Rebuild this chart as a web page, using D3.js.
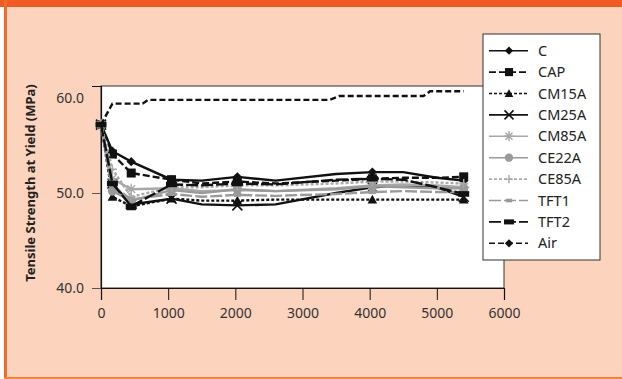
<!DOCTYPE html>
<html>
<head>
<meta charset="utf-8">
<script src="https://cdn.jsdelivr.net/npm/d3@7"></script>
<style>
  html, body { margin: 0; padding: 0; background: #fff; }
  svg { display: block; }
</style>
</head>
<body>
<div id="chart"></div>
<script>
// hours of exposure (x) and tensile strength values (MPa)
const hours = [0, 170, 450, 1050, 1500, 2030, 2600, 3500, 4040, 4500, 5000, 5400];
const markerHours = [0, 170, 450, 1050, 2030, 4040, 5400];

const cValues     = [57.2, 54.4, 53.3, 51.4, 51.3, 51.7, 51.3, 52.0, 52.2, 52.2, 51.6, 51.3];
const capValues   = [57.2, 54.1, 52.1, 51.4, 51.0, 51.2, 51.0, 51.3, 51.5, 51.6, 51.6, 51.7];
const cm15aValues = [57.2, 49.6, 48.6, 49.4, 49.2, 49.2, 49.3, 49.3, 49.3, 49.3, 49.3, 49.3];
const cm25aValues = [57.2, 51.0, 48.8, 49.4, 48.8, 48.7, 48.8, 50.0, 50.6, 50.8, 50.6, 49.6];
const cm85aValues = [57.2, 51.5, 50.4, 50.5, 50.2, 50.3, 50.2, 50.5, 50.8, 50.9, 50.8, 50.6];
const ce22aValues = [57.2, 50.2, 49.2, 50.3, 50.0, 50.4, 50.2, 50.4, 50.7, 50.6, 50.5, 50.5];
const ce85aValues = [57.2, 52.5, 49.6, 50.6, 50.6, 50.8, 50.8, 51.0, 51.2, 51.2, 51.1, 51.0];
const tft1Values  = [57.2, 50.8, 49.3, 49.9, 49.6, 49.8, 49.7, 49.9, 50.1, 50.2, 50.1, 50.1];
const tft2Values  = [57.2, 51.0, 48.6, 50.9, 50.8, 51.0, 50.9, 51.4, 51.5, 51.4, 50.6, 49.9];

const airHours  = [0, 170, 620, 700, 3400, 3550, 4800, 4900, 5400];
const airValues = [57.2, 59.4, 59.4, 59.8, 59.8, 60.2, 60.2, 60.7, 60.7];

const xTicks = [0, 1000, 2000, 3000, 4000, 5000, 6000];
const yTicks = [40, 50, 60];
const yTitle = "Tensile Strength at Yield (MPa)";

const series = [
  { name: "C",     x: hours, y: cValues,     color: "#111", dash: null,  marker: "diamond" },
  { name: "CAP",   x: hours, y: capValues,   color: "#111", dash: "7,3", marker: "square" },
  { name: "CM15A", x: hours, y: cm15aValues, color: "#111", dash: "3,2", marker: "triangle" },
  { name: "CM25A", x: hours, y: cm25aValues, color: "#111", dash: null,  marker: "x" },
  { name: "CM85A", x: hours, y: cm85aValues, color: "#a8a8a8", dash: null,  marker: "asterisk" },
  { name: "CE22A", x: hours, y: ce22aValues, color: "#9a9a9a", dash: null,  marker: "circle" },
  { name: "CE85A", x: hours, y: ce85aValues, color: "#aaaaaa", dash: "3,2", marker: "plus" },
  { name: "TFT1",  x: hours, y: tft1Values,  color: "#9a9a9a", dash: "12,3", marker: "smallrect" },
  { name: "TFT2",  x: hours, y: tft2Values,  color: "#111", dash: "12,3", marker: "rect" },
  { name: "Air",   x: airHours, y: airValues, color: "#111", dash: "6,3", marker: "diamond", noPlotMarkers: true }
];

const W = 622, H = 379;
const svg = d3.select("#chart").append("svg")
  .attr("width", W).attr("height", H);

// frame: peach panel with orange top bar and edges
svg.append("rect").attr("width", W).attr("height", H).attr("fill", "#fff");
svg.append("rect").attr("x", 4).attr("y", 0).attr("width", W - 4).attr("height", H).attr("fill", "#fcd3bd");
svg.append("rect").attr("x", 0).attr("y", 0).attr("width", W).attr("height", 7).attr("fill", "#f15a22");
svg.append("rect").attr("x", 4).attr("y", 0).attr("width", 3).attr("height", H).attr("fill", "#f26a2e");
svg.append("rect").attr("x", 4).attr("y", H - 2).attr("width", W - 4).attr("height", 2).attr("fill", "#f5823f");

const x = d3.scaleLinear().domain([0, 6000]).range([101, 504]);
const y = d3.scaleLinear().domain([40, 61.26]).range([288, 86]);

// plot area
svg.append("rect")
  .attr("x", x(0)).attr("y", y(61.26))
  .attr("width", x(6000) - x(0)).attr("height", y(40) - y(61.26))
  .attr("fill", "#fff").attr("stroke", "#333").attr("stroke-width", 1);

const font = "'Noto Sans', 'Open Sans', sans-serif";

// x axis
const xAxis = svg.append("g")
  .attr("transform", `translate(0,${y(40)})`)
  .call(d3.axisBottom(x).tickValues(xTicks).tickSize(12).tickPadding(8).tickFormat(d3.format("d")));
xAxis.select(".domain").attr("stroke", "#111").attr("stroke-width", 1.2);
xAxis.selectAll(".tick line").attr("stroke", "#111");
xAxis.selectAll("text").attr("font-family", font).attr("font-size", 14).attr("fill", "#333");

// y axis
const yAxis = svg.append("g")
  .attr("transform", `translate(${x(0)},0)`)
  .call(d3.axisLeft(y).tickValues(yTicks).tickSize(9).tickPadding(8).tickFormat(d3.format(".1f")));
yAxis.select(".domain").attr("stroke", "#111").attr("stroke-width", 1.2);
yAxis.selectAll(".tick line").attr("stroke", "#555")
  .attr("display", d => d === 60 ? "none" : null);
yAxis.selectAll("text").attr("font-family", font).attr("font-size", 14).attr("fill", "#333");

svg.append("text")
  .attr("transform", "translate(35,183) rotate(-90)")
  .attr("text-anchor", "middle")
  .attr("font-family", font).attr("font-size", 13).attr("font-weight", "bold")
  .attr("fill", "#222")
  .text(yTitle);

function drawMarker(g, type, cx, cy, color, scale) {
  const s = scale || 1;
  if (type === "diamond") {
    const r = 4.6 * s;
    g.append("path").attr("d", `M${cx},${cy - r}L${cx + r},${cy}L${cx},${cy + r}L${cx - r},${cy}Z`).attr("fill", color);
  } else if (type === "square") {
    const r = 4.5 * s;
    g.append("rect").attr("x", cx - r).attr("y", cy - r).attr("width", 2 * r).attr("height", 2 * r).attr("fill", color);
  } else if (type === "triangle") {
    const r = 4.8 * s;
    g.append("path").attr("d", `M${cx},${cy - r}L${cx + r},${cy + r * 0.8}L${cx - r},${cy + r * 0.8}Z`).attr("fill", color);
  } else if (type === "x") {
    const r = 5 * s;
    g.append("path").attr("d", `M${cx - r},${cy - r}L${cx + r},${cy + r}M${cx - r},${cy + r}L${cx + r},${cy - r}`)
      .attr("stroke", color).attr("stroke-width", 1.6).attr("fill", "none");
  } else if (type === "asterisk") {
    const r = 5.5 * s;
    let d = "";
    for (let i = 0; i < 4; i++) {
      const a = i * Math.PI / 4;
      d += `M${cx - r * Math.cos(a)},${cy - r * Math.sin(a)}L${cx + r * Math.cos(a)},${cy + r * Math.sin(a)}`;
    }
    g.append("path").attr("d", d).attr("stroke", color).attr("stroke-width", 1.4).attr("fill", "none");
  } else if (type === "circle") {
    g.append("circle").attr("cx", cx).attr("cy", cy).attr("r", 4.6 * s).attr("fill", color);
  } else if (type === "plus") {
    const r = 4.5 * s;
    g.append("path").attr("d", `M${cx - r},${cy}L${cx + r},${cy}M${cx},${cy - r}L${cx},${cy + r}`)
      .attr("stroke", color).attr("stroke-width", 1.4).attr("fill", "none");
  } else if (type === "smallrect") {
    g.append("rect").attr("x", cx - 3.5 * s).attr("y", cy - 2 * s).attr("width", 7 * s).attr("height", 4 * s).attr("fill", color);
  } else if (type === "rect") {
    g.append("rect").attr("x", cx - 5.5 * s).attr("y", cy - 2.8 * s).attr("width", 11 * s).attr("height", 5.6 * s).attr("fill", color);
  }
}

const line = d3.line().x(d => x(d[0])).y(d => y(d[1]));
const plot = svg.append("g");

series.forEach(s => {
  const pts = s.x.map((h, i) => [h, s.y[i]]);
  plot.append("path")
    .attr("d", line(pts))
    .attr("fill", "none")
    .attr("stroke", s.color)
    .attr("stroke-width", 2.4)
    .attr("stroke-dasharray", s.dash);
  if (!s.noPlotMarkers) {
    const mg = plot.append("g");
    pts.filter(p => markerHours.includes(p[0]))
      .forEach(p => drawMarker(mg, s.marker, x(p[0]), y(p[1]), s.color, 1));
  }
});

// legend
const legend = svg.append("g");
legend.append("rect")
  .attr("x", 483).attr("y", 34).attr("width", 117).attr("height", 226)
  .attr("fill", "#fff").attr("stroke", "#333").attr("stroke-width", 1);

series.forEach((s, i) => {
  const cy = 50.7 + i * 21.4;
  legend.append("line")
    .attr("x1", 489).attr("x2", 528).attr("y1", cy).attr("y2", cy)
    .attr("stroke", s.color).attr("stroke-width", 1.6)
    .attr("stroke-dasharray", s.dash);
  drawMarker(legend, s.marker, 509, cy, s.color, 0.9);
  legend.append("text")
    .attr("x", 538).attr("y", cy + 5)
    .attr("font-family", font).attr("font-size", 14.5)
    .attr("fill", "#222")
    .text(s.name);
});
</script>
</body>
</html>
